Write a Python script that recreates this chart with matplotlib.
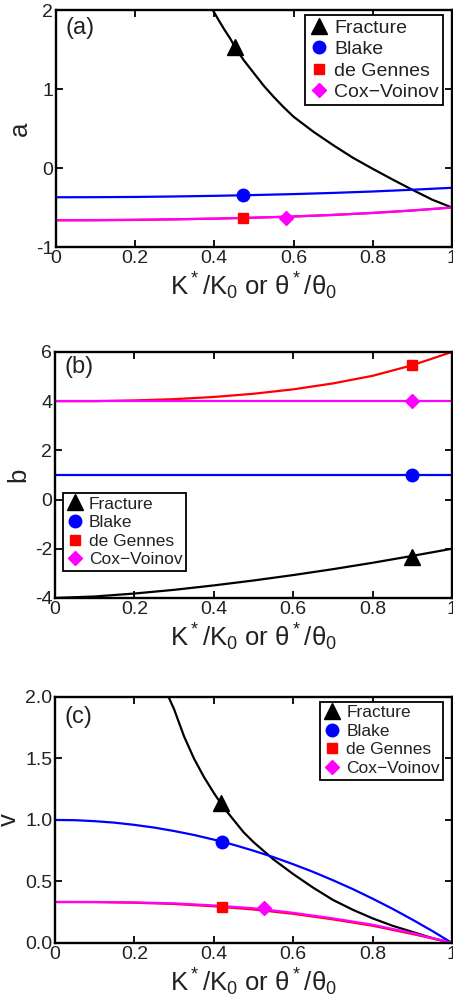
import matplotlib
matplotlib.use("Agg")
import matplotlib.pyplot as plt
import matplotlib.ticker as ticker

plt.rcParams["font.family"] = ["Liberation Sans", "DejaVu Sans"]
plt.rcParams["mathtext.default"] = "regular"

# ---- panel (a) : a ----
a_frac_x = [0.396, 0.41, 0.425, 0.44, 0.452, 0.475, 0.5, 0.525, 0.55, 0.575, 0.6,
            0.65, 0.7, 0.75, 0.8, 0.85, 0.9, 0.95, 1.0]
a_frac_y = [2.0, 1.88, 1.755, 1.64, 1.53, 1.36, 1.2, 1.04, 0.9, 0.77, 0.65,
            0.46, 0.29, 0.13, -0.01, -0.145, -0.275, -0.4, -0.5]
a_x = [0, 0.1, 0.2, 0.3, 0.4, 0.5, 0.6, 0.7, 0.8, 0.9, 1.0]
a_blake_y = [-0.37, -0.369, -0.366, -0.36, -0.352, -0.342, -0.33, -0.315, -0.297, -0.275, -0.25]
a_degennes_y = [-0.662, -0.661, -0.657, -0.65, -0.641, -0.629, -0.614, -0.594, -0.569, -0.538, -0.5]
a_cox_y = [-0.66, -0.659, -0.655, -0.648, -0.64, -0.628, -0.613, -0.593, -0.568, -0.537, -0.5]
a_marks = {"frac": (0.452, 1.53), "blake": (0.473, -0.34), "degennes": (0.473, -0.635), "cox": (0.58, -0.63)}

# ---- panel (b) : b ----
b_x = [0, 0.1, 0.2, 0.3, 0.4, 0.5, 0.6, 0.7, 0.8, 0.9, 1.0]
b_frac_y = [-4.0, -3.94, -3.82, -3.67, -3.49, -3.29, -3.07, -2.83, -2.57, -2.29, -2.0]
b_blake_y = [1, 1, 1, 1, 1, 1, 1, 1, 1, 1, 1]
b_degennes_y = [4.0, 4.0, 4.03, 4.08, 4.17, 4.3, 4.48, 4.72, 5.03, 5.46, 6.0]
b_cox_y = [4, 4, 4, 4, 4, 4, 4, 4, 4, 4, 4]
b_marks = {"frac": (0.9, -2.32), "blake": (0.9, 1.0), "degennes": (0.9, 5.47), "cox": (0.9, 4.0)}

# ---- panel (c) : v ----
c_frac_x = [0.286, 0.3, 0.325, 0.35, 0.375, 0.4, 0.425, 0.45, 0.475, 0.5, 0.55, 0.6,
            0.65, 0.7, 0.75, 0.8, 0.85, 0.9, 0.95, 1.0]
c_frac_y = [2.0, 1.9, 1.68, 1.5, 1.35, 1.22, 1.1, 1.0, 0.9, 0.82, 0.68, 0.56,
            0.45, 0.35, 0.27, 0.2, 0.14, 0.09, 0.04, 0.0]
c_blake_x = [0, 0.05, 0.1, 0.15, 0.2, 0.25, 0.3, 0.35, 0.4, 0.45, 0.5,
             0.55, 0.6, 0.65, 0.7, 0.75, 0.8, 0.85, 0.9, 0.95, 1.0]
c_blake_y = [1.0, 0.998, 0.99, 0.978, 0.96, 0.938, 0.91, 0.878, 0.84, 0.798, 0.75,
             0.698, 0.64, 0.578, 0.51, 0.438, 0.36, 0.278, 0.19, 0.098, 0.0]
c_x = [0, 0.1, 0.2, 0.3, 0.4, 0.5, 0.6, 0.7, 0.8, 0.9, 1.0]
c_degennes_y = [0.333, 0.332, 0.327, 0.317, 0.298, 0.272, 0.237, 0.192, 0.14, 0.073, 0.0]
c_cox_y = [0.333, 0.333, 0.33, 0.322, 0.305, 0.282, 0.245, 0.2, 0.148, 0.08, 0.0]
c_marks = {"frac": (0.418, 1.14), "blake": (0.42, 0.824), "degennes": (0.42, 0.292), "cox": (0.527, 0.284)}

noms = {"frac": "Fracture", "blake": "Blake", "degennes": "de Gennes", "cox": "Cox\u2212Voinov"}
couleurs = {"frac": "k", "blake": "#0000ff", "degennes": "#ff0000", "cox": "#ff00ff"}
marqueurs = {"frac": ("^", 11), "blake": ("o", 9), "degennes": ("s", 7.5), "cox": ("D", 7.5)}

xlabel = r"K$^*$/K$_0$ or θ$^*$/θ$_0$"


def tracer(axes, courbes, marks, ylim, yticks, yfmt, ylabel, lettre, leg_loc, leg_anchor, leg_size, lettre_y):
    for cle, (xs, ys) in courbes.items():
        axes.plot(xs, ys, color=couleurs[cle], linewidth=1.6, zorder=2)
    for cle in ["frac", "blake", "degennes", "cox"]:
        m, ms = marqueurs[cle]
        axes.plot([marks[cle][0]], [marks[cle][1]], linestyle="None", marker=m, markersize=ms,
                  color=couleurs[cle], label=noms[cle], zorder=3)
    axes.set_xlim(0, 1)
    axes.set_ylim(*ylim)
    axes.set_xticks([0, 0.2, 0.4, 0.6, 0.8, 1.0])
    axes.xaxis.set_major_formatter(ticker.FormatStrFormatter("%g"))
    axes.set_yticks(yticks)
    axes.yaxis.set_major_formatter(ticker.FormatStrFormatter(yfmt))
    axes.tick_params(direction="in", length=5, width=1.3, top=True, right=True,
                     labelsize=14, pad=2, labelcolor="#222222")
    for s in axes.spines.values():
        s.set_linewidth(1.7)
    axes.set_xlabel(xlabel, fontsize=18.5, labelpad=3, color="#222222")
    axes.set_ylabel(ylabel, fontsize=18.5, labelpad=3, color="#222222")
    axes.text(0.023, lettre_y, lettre, transform=axes.transAxes, fontsize=17,
              va="center", ha="left", color="#222222")
    leg = axes.legend(loc=leg_loc, bbox_to_anchor=leg_anchor, borderaxespad=0, fontsize=leg_size,
                      numpoints=1, handlelength=1.0, handletextpad=0.3, borderpad=0.2,
                      labelspacing=0.2, fancybox=False, framealpha=1, edgecolor="k")
    leg.get_frame().set_linewidth(1.3)
    for t in leg.get_texts():
        t.set_color("#222222")


fig = plt.figure(figsize=(4.53, 10.07), dpi=100)
ax_a = fig.add_axes([0.1236, 0.7547, 0.874, 0.2353])
ax_b = fig.add_axes([0.1214, 0.4062, 0.8764, 0.2443])
ax_c = fig.add_axes([0.1214, 0.0636, 0.8764, 0.2443])

tracer(ax_a,
       {"frac": (a_frac_x, a_frac_y), "blake": (a_x, a_blake_y),
        "degennes": (a_x, a_degennes_y), "cox": (a_x, a_cox_y)},
       a_marks, (-1, 2), [-1, 0, 1, 2], "%g", "a", "(a)",
       "upper right", (0.977, 0.979), 14, 0.925)

tracer(ax_b,
       {"frac": (b_x, b_frac_y), "blake": (b_x, b_blake_y),
        "degennes": (b_x, b_degennes_y), "cox": (b_x, b_cox_y)},
       b_marks, (-4, 6), [-4, -2, 0, 2, 4, 6], "%g", "b", "(b)",
       "upper left", (0.02, 0.427), 12.5, 0.937)

tracer(ax_c,
       {"frac": (c_frac_x, c_frac_y), "blake": (c_blake_x, c_blake_y),
        "degennes": (c_x, c_degennes_y), "cox": (c_x, c_cox_y)},
       c_marks, (0, 2), [0, 0.5, 1.0, 1.5, 2.0], "%.1f", "v", "(c)",
       "upper right", (0.978, 0.981), 12.5, 0.92)

fig.savefig("out.png", dpi=100)
